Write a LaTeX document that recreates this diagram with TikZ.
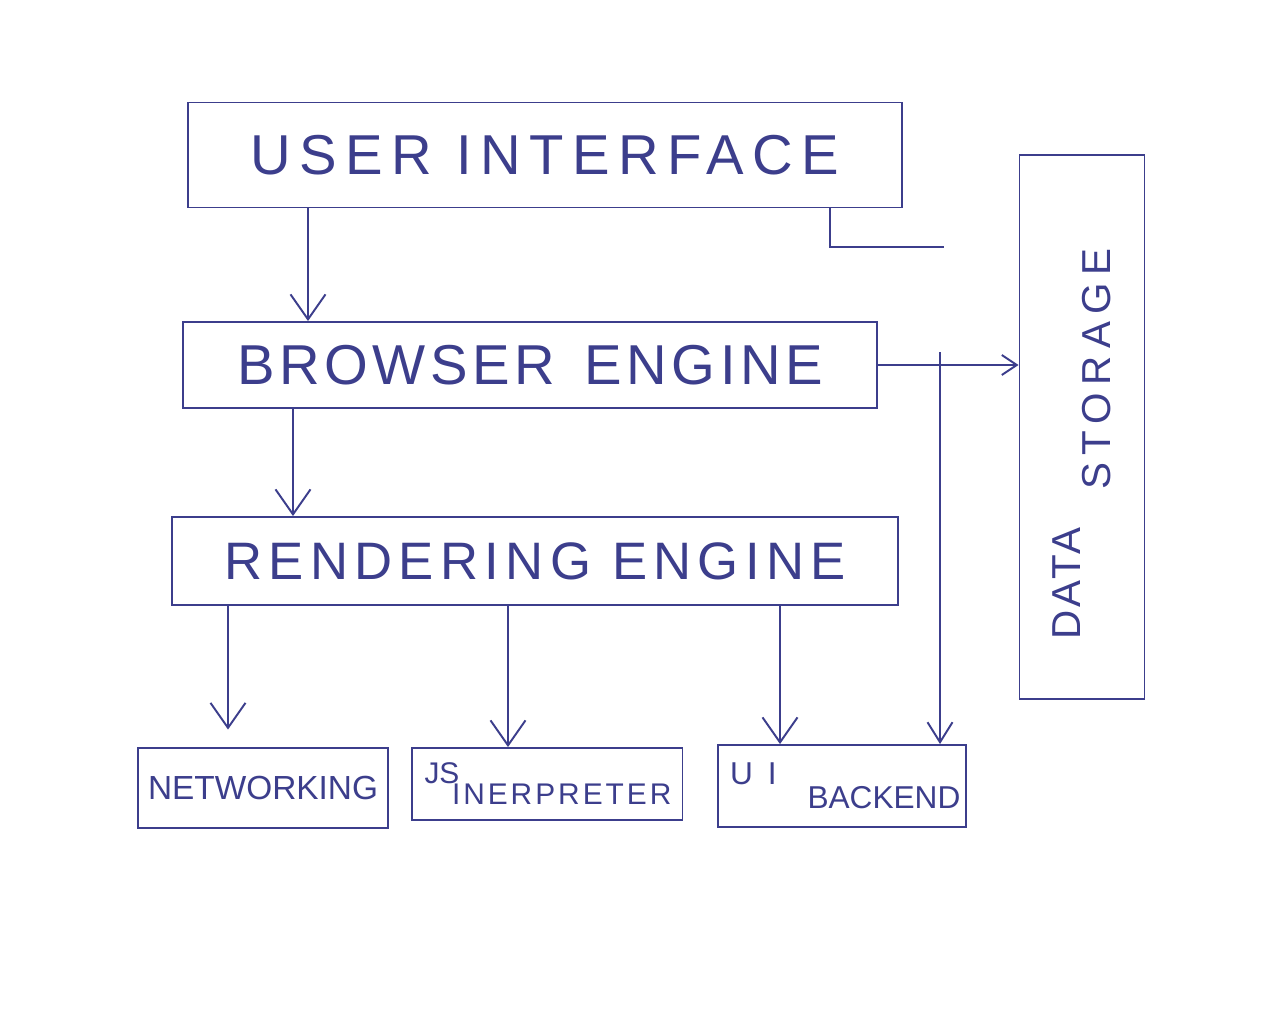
\documentclass[tikz,border=0pt]{standalone}
\usepackage{fontspec}
\usetikzlibrary{arrows.meta}
\newfontfamily\handfont{Liberation Sans}
\definecolor{penblue}{RGB}{60,62,140}
\newcommand{\hand}[3]{\handfont\fontsize{#1}{#2}\selectfont\addfontfeature{LetterSpace=#3}}

\begin{document}
\begin{tikzpicture}[x=0.02cm, y=-0.02cm, line width=1.1pt, draw=penblue,
    >={Straight Barb[length=5mm,width=7mm]},
    box/.style={draw=penblue, line width=1.1pt, inner sep=0pt},
    every node/.style={text=penblue}]
  \useasboundingbox (0,0) rectangle (1280,1025);
  \fill[white] (0,0) rectangle (1280,1025);

  % blocks
  \node[box, minimum width=14.28cm, minimum height=2.1cm] (ui) at (545,155) {\hand{32}{38}{15}USER INTERFACE};
  \node[box, minimum width=13.9cm, minimum height=1.72cm] (be) at (530,365) {\hand{32}{38}{8}BROWSER\hspace{0.6cm}ENGINE};
  \node[box, minimum width=14.52cm, minimum height=1.76cm] (re) at (535,561) {\hand{30}{36}{12}RENDERING ENGINE};
  \node[box, minimum width=5cm, minimum height=1.6cm] (net) at (263,788) {\hand{19}{22}{0}NETWORKING};
  \node[box, minimum width=5.42cm, minimum height=1.44cm, inner xsep=0.26cm, text width=4.9cm, align=left] (js) at (547,784)
    {\hand{17}{17}{0}JS\\\hspace*{0.55cm}\addfontfeature{LetterSpace=10}\mbox{INERPRETER}};
  \node[box, minimum width=4.96cm, minimum height=1.64cm, inner xsep=0.24cm, text width=4.48cm, align=left] (uib) at (842,786)
    {\hand{18}{20}{0}U\hspace{0.3cm}I\\\hspace*{1.55cm}\mbox{BACKEND}};
  \node[box, rotate=90, minimum width=10.9cm, minimum height=2.5cm, text width=10.9cm, align=left] (ds) at (1082,427)
    {\hand{23}{21}{8}\hspace*{1.2cm}DATA\\\hspace*{4.2cm}\addfontfeature{LetterSpace=18}\mbox{STORAGE}};

  % links
  \draw[->] (ui.south -| 308,0) -- (be.north -| 308,0);
  \draw[->] (be.south -| 293,0) -- (re.north -| 293,0);
  \draw[->, shorten >=0.35cm] (re.south -| 228,0) -- (net.north -| 228,0);
  \draw[->] (re.south -| 508,0) -- (js.north -| 508,0);
  \draw[->] (re.south -| 780,0) -- (uib.north -| 780,0);
  \draw[-{Straight Barb[length=3mm,width=4mm]}] (be.east) -- (be.east -| ds.north);
  \coordinate (tap) at (940,352);
  \draw[-{Straight Barb[length=4mm,width=5mm]}] (tap) -- (uib.north -| tap);
  \coordinate (stub) at (944,247);
  \draw (ui.south -| 830,0) |- (stub);
\end{tikzpicture}
\end{document}
